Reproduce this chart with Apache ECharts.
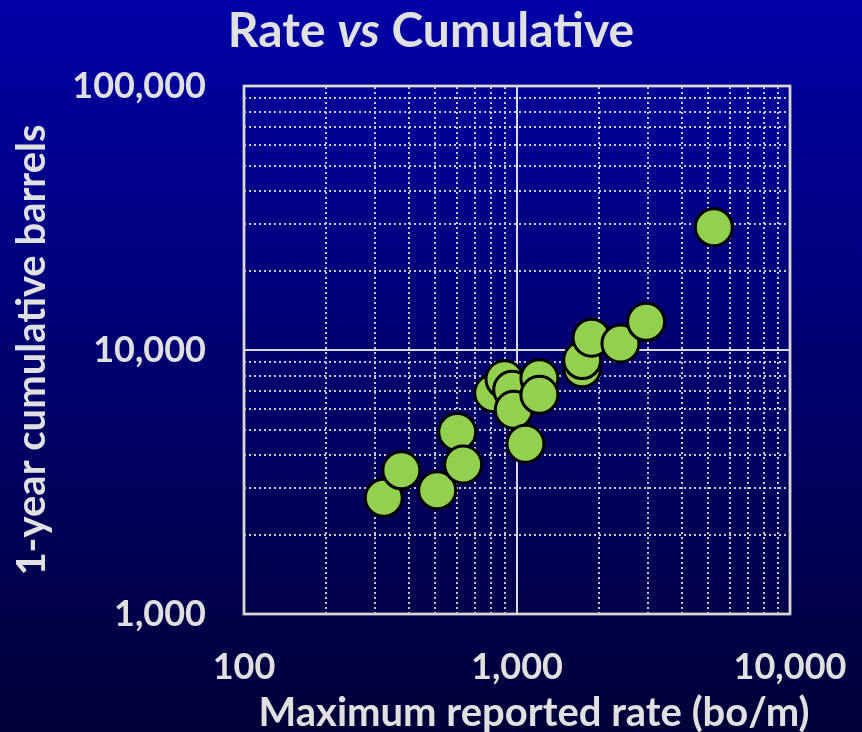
<!DOCTYPE html>
<html>
<head>
<meta charset="utf-8">
<script src="https://cdn.jsdelivr.net/npm/echarts@6/dist/echarts.min.js"></script>
<style>
html,body{margin:0;padding:0;width:862px;height:732px;overflow:hidden;background:#000080;}
#chart{width:862px;height:732px;}
</style>
</head>
<body>
<div id="chart"></div>
<script>
// Data
const maxRate = [325, 377, 510, 604, 635, 818, 900, 960, 973, 1074, 1208, 1208, 1733, 1733, 1875, 2393, 2971, 5260];
const cumBarrels = [2757, 3503, 2944, 4891, 3682, 6869, 7745, 7063, 5937, 4418, 7820, 6767, 8530, 9163, 11130, 10590, 12790, 29190];
const xMinorGrid = [200, 300, 400, 500, 600, 700, 800, 900, 2000, 3000, 4000, 5000, 6000, 7000, 8000, 9000];
const yMinorGrid = [2000, 3000, 4000, 5000, 6000, 7000, 8000, 9000, 20000, 30000, 40000, 50000, 60000, 70000, 80000, 90000];

const points = maxRate.map((x, i) => [x, cumBarrels[i]]);
const FONT = 'Lato';
const TXT = '#e0e0e0';

const chart = echarts.init(document.getElementById('chart'));
const fmt = v => Number(v).toLocaleString('en-US');

const minorLines = xMinorGrid.map(v => ({ xAxis: v })).concat(yMinorGrid.map(v => ({ yAxis: v })));

chart.setOption({
  backgroundColor: new echarts.graphic.LinearGradient(0, 0, 0, 1, [
    { offset: 0, color: '#0000a6' },
    { offset: 1, color: '#000038' }
  ]),
  animation: false,
  title: {
    text: '{a|Rate }{b|vs}{a| Cumulative}',
    left: 'center',
    top: 3,
    textStyle: {
      rich: {
        a: { fontFamily: FONT, fontWeight: 'bold', fontSize: 48, color: TXT },
        b: { fontFamily: FONT, fontWeight: 'bold', fontStyle: 'italic', fontSize: 48, color: TXT }
      }
    }
  },
  grid: {
    left: 244, right: 72, top: 86, bottom: 118,
    outerBoundsMode: 'none', containLabel: false,
    show: true, borderColor: '#a8a8a8', borderWidth: 3, backgroundColor: 'transparent'
  },
  xAxis: {
    type: 'log', logBase: 10, min: 100, max: 10000,
    name: 'Maximum reported rate (bo/m)',
    nameLocation: 'middle', nameGap: 79,
    nameTextStyle: { fontFamily: FONT, fontWeight: 'bold', fontSize: 40, color: TXT, padding: [0, 0, 0, 34] },
    axisLine: { show: false },
    axisTick: { show: false },
    axisLabel: { formatter: fmt, margin: 35, fontFamily: FONT, fontWeight: 'bold', fontSize: 36, color: TXT },
    splitLine: { show: true, lineStyle: { color: '#d8d8d8', width: 2 } }
  },
  yAxis: {
    type: 'log', logBase: 10, min: 1000, max: 100000,
    name: '1-year cumulative barrels',
    nameLocation: 'middle', nameGap: 192, nameRotate: 90,
    nameTextStyle: { fontFamily: FONT, fontWeight: 'bold', fontSize: 40, color: TXT },
    axisLine: { show: false },
    axisTick: { show: false },
    axisLabel: { formatter: fmt, margin: 38, fontFamily: FONT, fontWeight: 'bold', fontSize: 36, color: TXT },
    splitLine: { show: true, lineStyle: { color: '#d8d8d8', width: 2 } }
  },
  series: [
    {
      type: 'scatter', data: [], z: 1, silent: true,
      markLine: {
        silent: true, symbol: ['none', 'none'], animation: false,
        label: { show: false },
        lineStyle: { color: '#c8c8c8', width: 2, type: [2, 3] },
        emphasis: { disabled: true },
        data: minorLines
      }
    },
    {
      type: 'scatter', z: 5,
      data: points,
      symbol: 'circle', symbolSize: 37,
      itemStyle: { color: '#92d050', borderColor: '#000000', borderWidth: 3, opacity: 1 }
    }
  ]
});
</script>
</body>
</html>
